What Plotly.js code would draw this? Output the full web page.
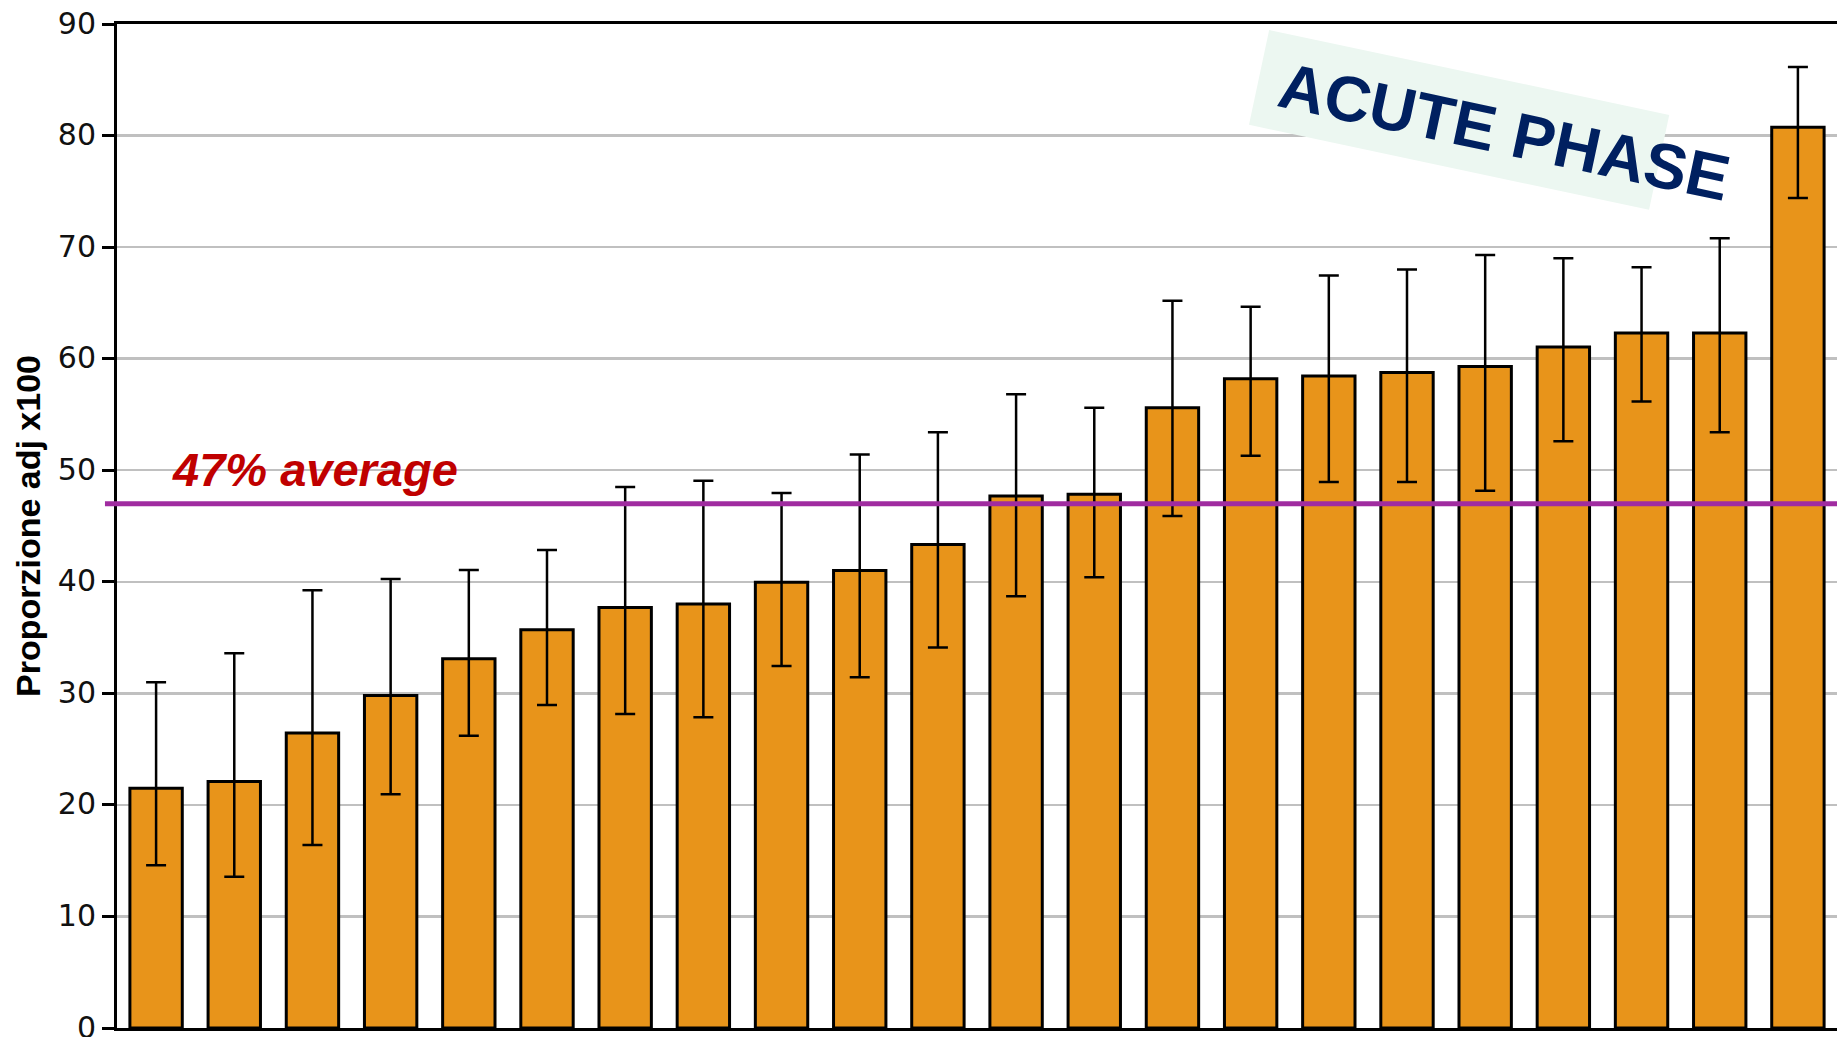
<!DOCTYPE html>
<html>
<head>
<meta charset="utf-8">
<script src="https://cdn.plot.ly/plotly-3.0.1.min.js"></script>
<style>
  html, body { margin: 0; padding: 0; background: #ffffff; }
  #chart { width: 1839px; height: 1037px; }
</style>
</head>
<body>
<div id="chart"></div>
<script>
// ---- data ----
const categories = ['C01','C02','C03','C04','C05','C06','C07','C08','C09','C10','C11',
                    'C12','C13','C14','C15','C16','C17','C18','C19','C20','C21','C22'];
const values  = [21.5, 22.1, 26.45, 29.8, 33.1, 35.7, 37.7, 38.0, 39.95, 41.0, 43.35,
                 47.7, 47.85, 55.6, 58.2, 58.45, 58.75, 59.3, 61.05, 62.3, 62.3, 80.75];
const ciUpper = [31.0, 33.6, 39.25, 40.25, 41.05, 42.85, 48.5, 49.05, 47.95, 51.4, 53.4,
                 56.8, 55.6, 65.2, 64.65, 67.45, 68.0, 69.3, 69.0, 68.2, 70.8, 86.15];
const ciLower = [14.6, 13.55, 16.4, 20.95, 26.2, 28.95, 28.15, 27.85, 32.45, 31.45, 34.1,
                 38.7, 40.4, 45.9, 51.3, 48.95, 48.95, 48.15, 52.6, 56.15, 53.4, 74.4];
const averageValue = 47;
const averageLabel = '47% average';
const phaseLabel = 'ACUTE PHASE';
const yTitle = 'Proporzione adj x100';
const yTickVals = [0, 10, 20, 30, 40, 50, 60, 70, 80, 90];

const errPlus  = values.map((v, i) => ciUpper[i] - v);
const errMinus = values.map((v, i) => v - ciLower[i]);

const trace = {
  type: 'bar',
  x: categories,
  y: values,
  marker: { color: '#E8941A', line: { color: '#000000', width: 3 } },
  error_y: {
    type: 'data', symmetric: false,
    array: errPlus, arrayminus: errMinus,
    color: '#000000', thickness: 2.5, width: 10
  },
  hoverinfo: 'y'
};

const layout = {
  width: 1839, height: 1037,
  margin: { l: 117, r: 2, t: 24, b: 9, pad: 0 },
  paper_bgcolor: '#ffffff', plot_bgcolor: '#ffffff',
  showlegend: false,
  bargap: 0.33,
  xaxis: {
    type: 'category',
    showticklabels: false, ticks: '',
    showgrid: false, zeroline: false,
    showline: true, linecolor: '#000000', linewidth: 3, mirror: true,
    range: [-0.5, 21.5], fixedrange: true
  },
  yaxis: {
    range: [0, 90], tickvals: yTickVals,
    ticks: 'outside', ticklen: 12, tickwidth: 3, tickcolor: '#000000',
    ticklabeloverflow: 'allow', ticklabelshift: -1,
    tickfont: { family: 'DejaVu Sans, Verdana, sans-serif', size: 30, color: '#111111' },
    showgrid: true, gridcolor: '#C0C0C0', gridwidth: 2.5,
    zeroline: false,
    showline: true, linecolor: '#000000', linewidth: 3,
    title: { text: yTitle, standoff: 7,
             font: { family: 'Liberation Sans, Arial, sans-serif', size: 34, color: '#000000', weight: 'bold' } },
    fixedrange: true
  },
  shapes: [{
    type: 'line', layer: 'above',
    xref: 'paper', yref: 'y',
    x0: -0.007, x1: 1, y0: averageValue, y1: averageValue,
    line: { color: '#A02CA0', width: 5 }
  }],
  annotations: [
    {
      xref: 'paper', yref: 'y', x: 0.0308, y: 50.1,
      xanchor: 'left', yanchor: 'middle', showarrow: false,
      text: averageLabel,
      font: { family: 'Liberation Sans, Arial, sans-serif', size: 47, color: '#C00000', weight: 'bold', style: 'italic' }
    },
    {
      xref: 'paper', yref: 'paper', x: 0.7805, y: 0.9039,
      xanchor: 'center', yanchor: 'middle', showarrow: false,
      text: ' ', width: 408, height: 96, borderpad: 0,
      bgcolor: '#ECF7F1', textangle: 12
    },
    {
      xref: 'paper', yref: 'paper', x: 0.8065, y: 0.8925,
      xanchor: 'center', yanchor: 'middle', showarrow: false,
      text: phaseLabel, textangle: 12,
      font: { family: 'Liberation Sans, Arial, sans-serif', size: 64, color: '#002060', weight: 'bold' }
    }
  ]
};

Plotly.newPlot('chart', [trace], layout, { displayModeBar: false, staticPlot: true });
</script>
</body>
</html>
